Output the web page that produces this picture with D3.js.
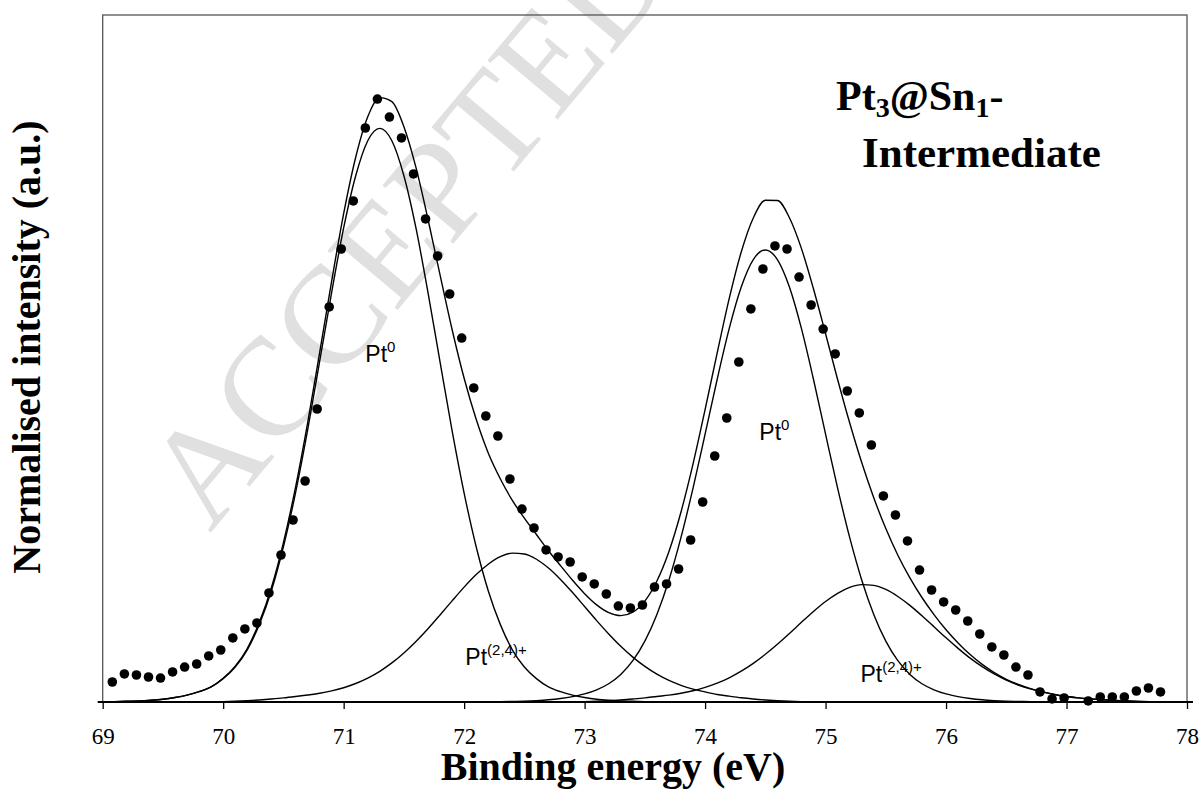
<!DOCTYPE html>
<html>
<head>
<meta charset="utf-8">
<script src="https://cdn.jsdelivr.net/npm/d3@7"></script>
<style>
  body { margin: 0; background: #fff; }
</style>
</head>
<body>
<svg id="chart" width="1203" height="790"></svg>
<script>
// measured spectrum (dots), 0.1 eV steps; 77.08 not shown in the source
const dotEnergy = [69.08, 69.18, 69.28, 69.38, 69.48, 69.58, 69.68, 69.78, 69.88, 69.98,
  70.08, 70.18, 70.28, 70.38, 70.48, 70.58, 70.68, 70.78, 70.88, 70.98,
  71.08, 71.18, 71.28, 71.38, 71.48, 71.58, 71.68, 71.78, 71.88, 71.98,
  72.08, 72.18, 72.28, 72.38, 72.48, 72.58, 72.68, 72.78, 72.88, 72.98,
  73.08, 73.18, 73.28, 73.38, 73.48, 73.58, 73.68, 73.78, 73.88, 73.98,
  74.08, 74.18, 74.28, 74.38, 74.48, 74.58, 74.68, 74.78, 74.88, 74.98,
  75.08, 75.18, 75.28, 75.38, 75.48, 75.58, 75.68, 75.78, 75.88, 75.98,
  76.08, 76.18, 76.28, 76.38, 76.48, 76.58, 76.68, 76.78, 76.88, 76.98,
  77.08, 77.18, 77.28, 77.38, 77.48, 77.58, 77.68, 77.78];
const dotIntensity = [2.91, 4.08, 3.93, 3.64, 3.49, 4.37, 5.09, 5.53, 6.70, 7.57,
  9.32, 10.63, 11.50, 15.87, 21.40, 26.49, 32.17, 42.65, 57.50, 65.94,
  72.93, 83.55, 87.77, 85.15, 82.10, 76.86, 70.31, 64.92, 59.39, 52.98,
  45.71, 41.63, 38.72, 32.46, 28.09, 25.33, 22.13, 21.11, 20.38, 18.20,
  17.18, 15.72, 13.97, 13.68, 14.12, 16.74, 17.18, 19.36, 23.58, 29.11,
  35.81, 41.34, 49.49, 57.21, 63.03, 66.38, 65.94, 61.86, 57.79, 54.29,
  50.66, 45.27, 42.07, 37.41, 29.99, 27.22, 23.44, 19.21, 16.30, 14.56,
  13.39, 11.79, 9.90, 8.01, 6.84, 5.09, 3.93, 1.46, 0.44, 0.58,
  null, 0.15, 0.73, 0.73, 0.73, 1.60, 2.04, 1.46];

// fitted curves, sampled every 0.1 eV
const fitEnergy = [69.1, 69.2, 69.3, 69.4, 69.5, 69.6, 69.7, 69.8, 69.9,
  70.0, 70.1, 70.2, 70.3, 70.4, 70.5, 70.6, 70.7, 70.8, 70.9,
  71.0, 71.1, 71.2, 71.3, 71.4, 71.5, 71.6, 71.7, 71.8, 71.9,
  72.0, 72.1, 72.2, 72.3, 72.4, 72.5, 72.6, 72.7, 72.8, 72.9,
  73.0, 73.1, 73.2, 73.3, 73.4, 73.5, 73.6, 73.7, 73.8, 73.9,
  74.0, 74.1, 74.2, 74.3, 74.4, 74.5, 74.6, 74.7, 74.8, 74.9,
  75.0, 75.1, 75.2, 75.3, 75.4, 75.5, 75.6, 75.7, 75.8, 75.9,
  76.0, 76.1, 76.2, 76.3, 76.4, 76.5, 76.6, 76.7, 76.8, 76.9,
  77.0, 77.1, 77.2, 77.3, 77.4, 77.5, 77.6, 77.7];
const envelope = [0.05, 0.1, 0.15, 0.25, 0.4, 0.65, 1.0, 1.5, 2.2,
  3.45, 5.21, 7.79, 11.6, 16.64, 23.2, 31.2, 40.52, 50.77, 61.22,
  71.08, 79.29, 85.18, 87.97, 87.39, 83.74, 77.81, 70.27, 62.17, 54.22,
  47.12, 41.15, 36.26, 32.5, 29.35, 26.76, 24.38, 22.02, 19.85, 17.72,
  15.77, 14.14, 13.01, 12.57, 13.08, 14.69, 17.61, 21.91, 27.66, 34.66,
  42.57, 50.78, 58.71, 65.5, 70.46, 73.04, 73.0, 70.49, 65.99, 60.12,
  53.6, 46.95, 40.64, 34.85, 29.73, 25.24, 21.37, 18.07, 15.21, 12.73,
  10.52, 8.6, 6.9, 5.47, 4.28, 3.31, 2.55, 1.95, 1.48, 1.10,
  0.80, 0.60, 0.45, 0.32, 0.22, 0.14, 0.08, 0.04];

const pt0LowStart = 69.1;
const pt0Low = [0.05, 0.1, 0.15, 0.25, 0.4, 0.65, 1.0, 1.5, 2.2,
  3.4, 5.1, 7.6, 11.3, 16.2, 22.6, 30.4, 39.5, 49.5, 59.6,
  69.0, 76.6, 81.7, 83.5, 81.7, 76.6, 69.0, 59.6, 49.5, 39.5,
  30.4, 22.6, 16.2, 11.3, 7.6, 5.1, 3.4, 2.2, 1.5, 1.0,
  0.65, 0.4, 0.25, 0.15, 0.1, 0.05];

const ptOxLowStart = 70.0;
const ptOxLow = [0.05, 0.11, 0.19, 0.3, 0.44, 0.6, 0.8, 1.02, 1.27, 1.62,
  2.08, 2.69, 3.48, 4.47, 5.69, 7.14, 8.81, 10.67, 12.67, 14.72,
  16.72, 18.55, 20.06, 21.16, 21.67, 21.54, 20.78, 19.50, 17.84, 15.93,
  13.89, 11.85, 9.91, 8.11, 6.53, 5.18, 4.05, 3.14, 2.43, 1.88,
  1.47, 1.1, 0.85, 0.62, 0.44, 0.3, 0.19, 0.11, 0.05];

const pt0HighStart = 72.3;
const pt0High = [0.04, 0.08, 0.12, 0.2, 0.32, 0.51, 0.79, 1.18, 1.78, 2.66,
  4.01, 6.01, 8.86, 12.75, 17.77, 23.96, 31.14, 38.98, 46.94, 54.34,
  60.40, 64.40, 65.8, 64.40, 60.40, 54.34, 46.94, 38.98, 31.14, 23.96,
  17.77, 12.75, 8.86, 6.01, 4.01, 2.66, 1.78, 1.18, 0.79, 0.51,
  0.32, 0.2, 0.12, 0.08, 0.04];

const ptOxHighStart = 73.0;
const ptOxHigh = [0.05, 0.11, 0.19, 0.3, 0.44, 0.6, 0.81, 1.00, 1.27, 1.64,
  2.12, 2.74, 3.52, 4.48, 5.62, 6.94, 8.41, 9.98, 11.60, 13.18,
  14.62, 15.81, 16.68, 17.08, 16.98, 16.38, 15.36, 14.06, 12.55, 10.95,
  9.34, 7.81, 6.39, 5.15, 4.08, 3.19, 2.47, 1.91, 1.48, 1.10,
  0.80, 0.60, 0.45, 0.32, 0.22, 0.14, 0.08, 0.04];

const xTicks = [69, 70, 71, 72, 73, 74, 75, 76, 77, 78];

// peak labels: base text, superscript, anchor (energy, intensity)
const labelBase = ["Pt", "Pt", "Pt", "Pt"];
const labelSup = ["0", "0", "(2,4)+", "(2,4)+"];
const labelEnergy = [71.18, 74.45, 72.01, 75.29];
const labelIntensity = [49.5, 38.1, 5.4, 2.95];

const svg = d3.select("#chart");

const x = d3.scaleLinear().domain([69, 78]).range([102.7, 1187]);
const y = d3.scaleLinear().domain([0, 100]).range([702, 15]);

// watermark
svg.append("text")
    .attr("transform", "translate(405,225) rotate(-50)")
    .attr("text-anchor", "middle")
    .attr("dy", "0.35em")
    .attr("font-family", "Liberation Serif, Times New Roman, serif")
    .attr("font-size", 140)
    .attr("fill", "#e0e0e0")
    .text("ACCEPTED");

// plot frame
svg.append("rect")
    .attr("x", x(69)).attr("y", y(100))
    .attr("width", x(78) - x(69)).attr("height", y(0) - y(100))
    .attr("fill", "none")
    .attr("stroke", "#555")
    .attr("stroke-width", 1.3);

// x axis
const xAxis = svg.append("g")
    .attr("transform", `translate(0,${y(0)})`)
    .call(d3.axisBottom(x).tickValues(xTicks).tickSize(7).tickSizeOuter(0).tickPadding(19));
xAxis.select(".domain").remove();
xAxis.selectAll(".tick line").attr("stroke", "#000").attr("stroke-width", 1.3);
xAxis.selectAll(".tick text")
    .attr("font-family", "Liberation Serif, Times New Roman, serif")
    .attr("font-size", 23)
    .attr("fill", "#000");
xAxis.append("line")
    .attr("x1", x(69) - 5).attr("x2", x(78) + 6)
    .attr("stroke", "#000").attr("stroke-width", 2);

// fitted curves
const line = d3.line()
    .x(d => x(d[0]))
    .y(d => y(d[1]))
    .curve(d3.curveMonotoneX);

function fitPoints(start, values) {
  const i0 = fitEnergy.findIndex(e => Math.abs(e - start) < 1e-6);
  return values.map((v, i) => [fitEnergy[i0 + i], v]);
}

const curves = [
  fitEnergy.map((e, i) => [e, envelope[i]]),
  fitPoints(pt0LowStart, pt0Low),
  fitPoints(ptOxLowStart, ptOxLow),
  fitPoints(pt0HighStart, pt0High),
  fitPoints(ptOxHighStart, ptOxHigh)
];

svg.append("g")
  .selectAll("path")
  .data(curves)
  .join("path")
    .attr("d", line)
    .attr("fill", "none")
    .attr("stroke", "#000")
    .attr("stroke-width", 1.4);

// measured points
const dots = dotEnergy.map((e, i) => [e, dotIntensity[i]]).filter(d => d[1] !== null);
svg.append("g")
  .selectAll("circle")
  .data(dots)
  .join("circle")
    .attr("cx", d => x(d[0]))
    .attr("cy", d => y(d[1]))
    .attr("r", 4.8)
    .attr("fill", "#000");

// peak labels
const labels = svg.append("g")
    .attr("font-family", "Liberation Sans, Arial, sans-serif")
    .attr("fill", "#000")
  .selectAll("text")
  .data(labelBase.map((b, i) => i))
  .join("text")
    .attr("x", i => x(labelEnergy[i]))
    .attr("y", i => y(labelIntensity[i]))
    .attr("font-size", 23);
labels.append("tspan").text(i => labelBase[i]);
labels.append("tspan")
    .attr("font-size", 15)
    .attr("dy", -10)
    .text(i => labelSup[i]);

// sample name
const title = svg.append("g")
    .attr("font-family", "Liberation Serif, Times New Roman, serif")
    .attr("font-weight", "bold")
    .attr("fill", "#000");
const t1 = title.append("text").attr("x", 836).attr("y", 110).attr("font-size", 42);
t1.append("tspan").text("Pt");
t1.append("tspan").attr("font-size", 28).attr("dy", 7).text("3");
t1.append("tspan").attr("dy", -7).text("@Sn");
t1.append("tspan").attr("font-size", 28).attr("dy", 7).text("1");
t1.append("tspan").attr("dy", -7).text("-");
title.append("text").attr("x", 862).attr("y", 167).attr("font-size", 43).text("Intermediate");

// axis titles
svg.append("text")
    .attr("x", 613).attr("y", 780)
    .attr("text-anchor", "middle")
    .attr("font-family", "Liberation Serif, Times New Roman, serif")
    .attr("font-weight", "bold")
    .attr("font-size", 40)
    .text("Binding energy (eV)");

svg.append("text")
    .attr("transform", "translate(40,347) rotate(-90)")
    .attr("text-anchor", "middle")
    .attr("font-family", "Liberation Serif, Times New Roman, serif")
    .attr("font-weight", "bold")
    .attr("font-size", 40)
    .text("Normalised intensity (a.u.)");
</script>
</body>
</html>
